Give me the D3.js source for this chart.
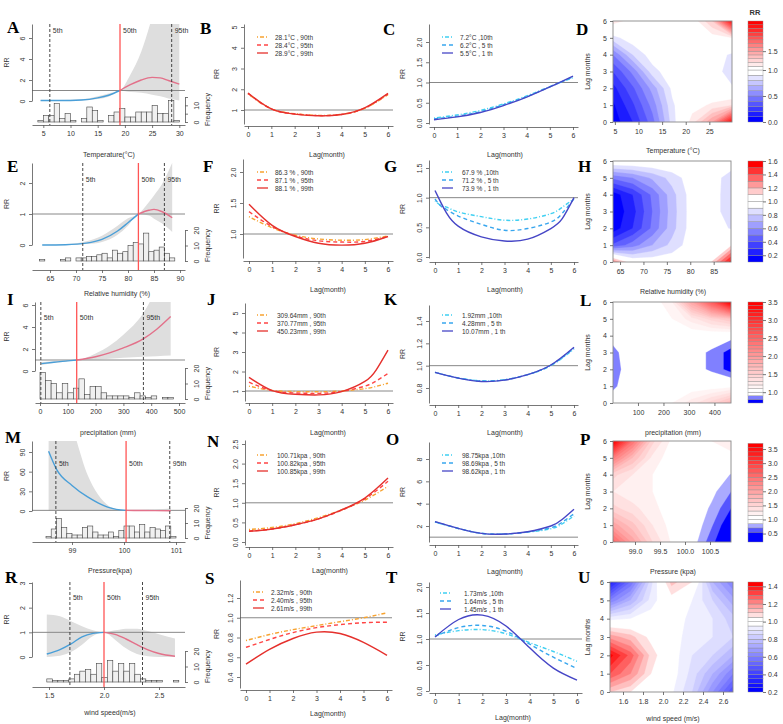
<!DOCTYPE html>
<html>
<head>
<meta charset="utf-8">
<script src="https://cdn.jsdelivr.net/npm/d3@7"></script>
<style>
  body { margin: 0; background: #fff; }
  svg text { font-family: "Liberation Sans", Arial, sans-serif; fill: #333; }
  svg text.letter { font-family: "Liberation Serif", "Times New Roman", serif; font-weight: bold; font-size: 17px; fill: #000; }
</style>
</head>
<body>
<svg id="fig" width="783" height="724"></svg>
<script>
var svg = d3.select("#fig");
var FONT = "'Liberation Sans', Arial, sans-serif";

// ================= exposure-response curves (left column) =================
var tempX  = [4.5, 8, 12, 15, 17, 19.1, 21, 23, 25, 26.5, 28, 30];
var tempRR = [0.05, 0.05, 0.1, 0.3, 0.55, 1.0, 1.55, 2.0, 2.25, 2.2, 1.95, 1.6];
var tempLo = [0.02, 0.02, 0.05, 0.18, 0.4, 1.0, 0.85, 0.78, 0.6, 0.45, 0.25, 0.05];
var tempHi = [0.1, 0.1, 0.16, 0.45, 0.72, 1.0, 2.5, 4.7, 8, 11, 14, 18];
var tempBin  = [4, 5, 6, 7, 8, 9, 10, 11, 12, 13, 14, 15, 16, 17, 18, 19, 20, 21, 22, 23, 24, 25, 26, 27, 28, 29];
var tempFreq = [1, 4, 4, 11, 2, 5, 1, 0, 2, 9, 7, 1, 0, 4, 6, 8, 3, 3, 6, 6, 6, 10, 5, 5, 13, 1];
var tempPct  = [6.2, 19.1, 28.6];

var humX  = [63.5, 68, 72, 75, 78, 80, 82, 84, 85, 86.5, 88.5];
var humRR = [0.0, 0.01, 0.06, 0.18, 0.45, 0.72, 1.0, 1.12, 1.15, 1.08, 0.88];
var humLo = [0.0, 0.0, 0.03, 0.1, 0.33, 0.62, 1.0, 0.95, 0.85, 0.7, 0.42];
var humHi = [0.01, 0.03, 0.12, 0.3, 0.62, 0.86, 1.0, 1.38, 1.6, 1.95, 2.65];
var humBin  = [63, 64, 65, 66, 67, 68, 69, 70, 71, 72, 73, 74, 75, 76, 77, 78, 79, 80, 81, 82, 83, 84, 85, 86, 87, 88];
var humFreq = [1, 0, 0, 0, 1, 2, 0, 2, 2, 3, 3, 4, 5, 2, 7, 5, 6, 10, 12, 11, 18, 6, 7, 9, 5, 2];
var humPct  = [71.3, 82.0, 87.0];

var precX  = [5, 50, 100, 132, 200, 250, 300, 370, 420, 470];
var precRR = [0.67, 0.8, 0.92, 1.0, 1.3, 1.65, 2.1, 2.9, 3.8, 4.95];
var precLo = [0.55, 0.72, 0.88, 1.0, 1.05, 1.12, 1.2, 1.3, 1.35, 1.4];
var precHi = [0.8, 0.88, 0.96, 1.0, 1.6, 2.3, 3.3, 5.2, 7.5, 10];
var precBin  = [0, 20, 40, 60, 80, 100, 120, 140, 160, 180, 200, 220, 240, 260, 280, 300, 320, 340, 360, 380, 400, 420, 440, 460];
var precFreq = [17, 12, 10, 4, 10, 4, 7, 13, 3, 8, 8, 4, 2, 2, 2, 2, 1, 4, 2, 1, 2, 0, 1, 1];
var precPct  = [3, 132, 372];

var presX  = [98.55, 98.7, 99.0, 99.3, 99.5, 99.7, 99.85, 100.04, 100.3, 100.6, 100.9];
var presRR = [91, 64, 39, 21.5, 12.5, 5.5, 2.5, 1.0, 0.7, 0.5, 0.4];
var presLo = [0.3, 0.3, 0.3, 0.3, 0.4, 0.5, 0.7, 1.0, 0.4, 0.2, 0.1];
var presHi = [250, 200, 130, 55, 25, 8, 3, 1.0, 1.5, 2.5, 4];
var presBin  = [98.5, 98.6, 98.7, 98.8, 98.9, 99.0, 99.1, 99.2, 99.3, 99.4, 99.5, 99.6, 99.7, 99.8, 99.9, 100.0, 100.1, 100.2, 100.3, 100.4, 100.5, 100.6, 100.7, 100.8, 100.9];
var presFreq = [1, 6, 13, 7, 3, 2, 2, 7, 8, 4, 2, 2, 4, 1, 5, 8, 8, 4, 9, 4, 7, 6, 5, 8, 1];
var presPct  = [98.69, 100.04, 100.88];

var windX  = [1.48, 1.6, 1.7, 1.8, 1.9, 2.0, 2.1, 2.2, 2.3, 2.4, 2.5, 2.645];
var windRR = [0.12, 0.3, 0.53, 0.82, 0.96, 1.0, 0.92, 0.73, 0.5, 0.29, 0.14, 0.03];
var windLo = [0.0, 0.05, 0.2, 0.5, 0.85, 1.0, 0.7, 0.35, 0.12, 0.03, 0.0, 0.0];
var windHi = [1.72, 1.65, 1.45, 1.25, 1.08, 1.0, 1.08, 1.15, 1.15, 1.05, 0.92, 0.75];
var windBin  = [1.48, 1.53, 1.58, 1.63, 1.68, 1.73, 1.78, 1.83, 1.88, 1.93, 1.98, 2.03, 2.08, 2.13, 2.18, 2.23, 2.28, 2.33, 2.38, 2.43, 2.48, 2.53, 2.58, 2.63];
var windFreq = [2, 1, 1, 1, 2, 5, 7, 8, 5, 12, 3, 14, 7, 12, 7, 12, 5, 2, 1, 1, 1, 0, 0, 1];
var windPct  = [1.69, 2.0, 2.35];

var pctNames = ["5th", "50th", "95th"];

// ================= lag-response curves (middle columns) =================
var lag7 = [0, 1, 2, 3, 4, 5, 6];
var lag8 = [0, 1, 2, 3, 4, 5, 5.5, 6];
var lagG = [0, 0.25, 0.5, 1, 2, 3, 4, 5, 5.5, 6];

var b90 = [1.78, 1.06, 0.82, 0.74, 0.79, 1.08, 1.74];
var b95 = [1.80, 1.05, 0.81, 0.73, 0.78, 1.09, 1.77];
var b99 = [1.82, 1.05, 0.80, 0.72, 0.78, 1.10, 1.80];
var c10 = [0.12, 0.2, 0.31, 0.47, 0.67, 0.9, 1.12];
var c5  = [0.1, 0.17, 0.28, 0.45, 0.65, 0.89, 1.14];
var c1  = [0.08, 0.15, 0.26, 0.43, 0.64, 0.89, 1.16];

var f90 = [1.28, 1.1, 0.98, 0.92, 0.9, 0.91, 0.97];
var f95 = [1.36, 1.12, 0.97, 0.89, 0.87, 0.88, 0.96];
var f99 = [1.48, 1.14, 0.96, 0.85, 0.82, 0.85, 0.96];
var g10 = [0.95, 0.87, 0.84, 0.76, 0.68, 0.62, 0.64, 0.73, 0.84, 0.98];
var g5  = [0.98, 0.86, 0.8, 0.69, 0.55, 0.45, 0.48, 0.59, 0.74, 0.98];
var g1  = [1.12, 0.92, 0.74, 0.52, 0.34, 0.27, 0.3, 0.48, 0.65, 1.0];

var j90 = [1.25, 1.03, 0.97, 0.96, 1.0, 1.12, 1.24, 1.4];
var j95 = [1.45, 1.02, 0.9, 0.88, 0.98, 1.25, 1.52, 1.9];
var j99 = [1.7, 1.02, 0.83, 0.8, 0.97, 1.49, 2.1, 3.1];
var k10 = [0.94, 0.89, 0.865, 0.875, 0.92, 1.0, 1.15];
var k5  = [0.94, 0.89, 0.862, 0.872, 0.92, 1.005, 1.155];
var k1  = [0.94, 0.888, 0.858, 0.87, 0.92, 1.006, 1.165];

var n90 = [0.32, 0.37, 0.47, 0.62, 0.82, 1.07, 1.42];
var n95 = [0.28, 0.33, 0.44, 0.59, 0.81, 1.1, 1.55];
var n99 = [0.27, 0.33, 0.44, 0.59, 0.82, 1.12, 1.63];
var o10 = [2.35, 1.78, 1.35, 1.28, 1.45, 1.75, 2.2, 2.9];
var o5  = [2.37, 1.79, 1.34, 1.28, 1.47, 1.85, 2.35, 3.1];
var o1  = [2.39, 1.79, 1.34, 1.28, 1.49, 2.0, 2.6, 3.5];

var s90 = [0.77, 0.83, 0.88, 0.92, 0.96, 1.0, 1.05];
var s95 = [0.70, 0.78, 0.85, 0.9, 0.93, 0.95, 0.955];
var s99 = [0.53, 0.68, 0.79, 0.854, 0.84, 0.75, 0.62];
var t10 = [1.08, 1.16, 1.18, 1.1, 0.93, 0.76, 0.57];
var t5  = [1.05, 1.22, 1.26, 1.15, 0.9, 0.65, 0.43];
var t1  = [1.04, 1.375, 1.46, 1.25, 0.83, 0.44, 0.21];

var legB = ["28.1°C , 90th", "28.4°C , 95th", "28.9°C , 99th"];
var legC = ["7.2°C ,10th", "6.2°C , 5 th", "5.5°C , 1 th"];
var legF = ["86.3 % , 90th", "87.1 % , 95th", "88.1 % , 99th"];
var legG = ["67.9 % ,10th", "71.2 % , 5 th", "73.9 % , 1 th"];
var legJ = ["309.64mm , 90th", "370.77mm , 95th", "450.23mm , 99th"];
var legK = ["1.92mm ,10th", "4.28mm , 5 th", "10.07mm , 1 th"];
var legN = ["100.71kpa , 90th", "100.82kpa , 95th", "100.85kpa , 99th"];
var legO = ["98.75kpa ,10th", "98.69kpa , 5 th", "98.62kpa , 1 th"];
var legS = ["2.32m/s , 90th", "2.40m/s , 95th", "2.61m/s , 99th"];
var legT = ["1.73m/s ,10th", "1.64m/s , 5 th", "1.45m/s , 1 th"];

// ================= exposure x lag surfaces (right column), rows = lag 0..6 =================
var tempCols = [4.6, 8.8, 13, 17.2, 21.4, 25.6, 29.8];
var tempGrid = [
  [0.04, 0.2, 0.46, 0.85, 1.15, 1.5, 2.2],
  [0.08, 0.28, 0.54, 0.88, 1.05, 1.12, 1.2],
  [0.16, 0.38, 0.64, 0.93, 1.0, 0.98, 0.91],
  [0.3, 0.53, 0.86, 0.97, 0.99, 0.94, 0.86],
  [0.5, 0.8, 0.96, 0.99, 0.99, 0.96, 0.88],
  [0.86, 0.97, 1.0, 1.0, 1.0, 1.04, 1.1],
  [1.15, 1.05, 1.0, 1.0, 1.02, 1.3, 2.2]
];
var humCols = [63.5, 67.7, 71.9, 76.1, 80.3, 84.5, 88.7];
var humGrid = [
  [1.3, 1.0, 0.98, 0.98, 1.0, 1.1, 1.55],
  [0.42, 0.55, 0.7, 0.83, 0.96, 1.0, 1.08],
  [0.14, 0.3, 0.52, 0.76, 0.95, 0.96, 0.89],
  [0.12, 0.26, 0.5, 0.75, 0.95, 0.95, 0.84],
  [0.14, 0.3, 0.52, 0.76, 0.95, 0.95, 0.84],
  [0.52, 0.6, 0.72, 0.84, 0.96, 0.95, 0.85],
  [1.02, 1.02, 1.02, 1.02, 1.0, 0.98, 0.97]
];
var precCols = [2, 79, 156, 234, 311, 388, 465];
var precGrid = [
  [0.96, 0.97, 1.0, 1.1, 1.25, 1.45, 1.7],
  [0.88, 0.97, 0.98, 1.0, 1.02, 1.02, 1.05],
  [0.85, 0.97, 0.97, 0.98, 0.95, 0.88, 0.75],
  [0.87, 0.97, 0.97, 0.98, 0.95, 0.88, 0.75],
  [0.94, 0.97, 0.98, 1.0, 1.0, 0.98, 0.95],
  [1.0, 1.0, 1.02, 1.1, 1.25, 1.45, 1.6],
  [1.05, 1.05, 1.02, 1.2, 1.9, 2.6, 3.5]
];
var presCols = [98.56, 98.95, 99.35, 99.74, 100.13, 100.53, 100.92];
var presGrid = [
  [2.6, 2.0, 1.45, 1.12, 0.95, 0.6, 0.3],
  [2.0, 1.65, 1.3, 1.08, 1.0, 0.72, 0.38],
  [1.5, 1.35, 1.2, 1.05, 1.0, 0.82, 0.55],
  [1.3, 1.2, 1.15, 1.05, 1.0, 0.9, 0.7],
  [1.5, 1.3, 1.15, 1.05, 1.0, 0.97, 0.84],
  [2.4, 1.75, 1.25, 1.05, 1.0, 1.02, 1.05],
  [3.7, 2.5, 1.5, 1.1, 1.0, 1.15, 1.3]
];
var windCols = [1.47, 1.675, 1.88, 2.085, 2.29, 2.495, 2.70];
var windGrid = [
  [1.1, 1.05, 1.0, 0.96, 0.85, 0.65, 0.45],
  [1.3, 1.2, 1.05, 0.98, 0.88, 0.75, 0.6],
  [1.42, 1.28, 1.08, 0.98, 0.9, 0.85, 0.75],
  [1.18, 1.12, 1.03, 0.98, 0.92, 0.9, 0.85],
  [0.93, 0.95, 0.98, 0.99, 0.93, 0.9, 0.82],
  [0.6, 0.75, 0.92, 1.02, 0.95, 0.85, 0.72],
  [0.3, 0.55, 0.88, 1.12, 1.05, 0.75, 0.6]
];

// colour-key breaks and tick labels
var tempLevels = d3.range(24).map(function(i) { return +(i * 0.1).toFixed(2); });
var humLevels  = d3.range(1, 17).map(function(i) { return +(i * 0.1).toFixed(2); });
var precLevels = d3.range(7, 36).map(function(i) { return +(i * 0.1).toFixed(2); });
var presLevels = [0.2, 0.55, 0.7, 0.85].concat(d3.range(19).map(function(i) { return +(1 + i * 0.15).toFixed(2); }));
var windLevels = d3.range(4, 30).map(function(i) { return +(i * 0.05).toFixed(2); });
var tempKey = [0, 0.5, 1, 1.5];
var humKey  = [0.2, 0.4, 0.6, 0.8, 1.0, 1.2, 1.4, 1.6];
var precKey = [1.0, 1.5, 2.0, 2.5, 3.0, 3.5];
var presKey = [0.5, 1.0, 1.5, 2.0, 2.5, 3.0, 3.5];
var windKey = [0.2, 0.4, 0.6, 0.8, 1.0, 1.2, 1.4];

// ================= helpers =================
// scale through two known tick positions, domain stretched to the pixel extent [a, b]
function fit(v1, p1, v2, p2, a, b) {
  var s = d3.scaleLinear().domain([v1, v2]).range([p1, p2]);
  return d3.scaleLinear().domain([s.invert(a), s.invert(b)]).range([a, b]);
}

function styleAxis(g) {
  g.attr("font-family", FONT).attr("font-size", 7);
  g.selectAll(".domain, .tick line").attr("stroke", "#555").attr("stroke-width", 0.8);
  g.selectAll("text").attr("fill", "#333");
  return g;
}

// R style: tick labels parallel to a vertical axis
function turnLabels(g, off) {
  g.selectAll(".tick text").attr("x", null).attr("y", null).attr("dy", null)
    .attr("text-anchor", "middle")
    .attr("transform", "translate(" + off + ",0) rotate(-90)");
}

function vlabel(txt, x, y, size) {
  svg.append("text").attr("transform", "translate(" + x + "," + y + ") rotate(-90)")
    .attr("text-anchor", "middle").attr("font-size", size || 7).text(txt);
}

function bandColors(levels) {
  var nb = levels.length - 1, nBlue = 0;
  for (var i = 0; i < nb; i++) if (levels[i + 1] <= 1.0001) nBlue++;
  var nRed = nb - nBlue;
  return d3.range(nb).map(function(i) {
    if (i < nBlue) return d3.interpolateRgb("#ffffff", "#0000ff")(nBlue > 1 ? (nBlue - 1 - i) / (nBlue - 1) : 1);
    return d3.interpolateRgb("#ffffff", "#ff0000")(nRed > 1 ? (i - nBlue) / (nRed - 1) : 1);
  });
}

// ================= panel builders =================
function exposurePanel(p) {
  var g = svg.append("g");
  var x = fit(p.xa[0], p.xa[1], p.xa[2], p.xa[3], p.L, p.R);
  var y = fit(p.ya[0], p.ya[1], p.ya[2], p.ya[3], p.rr0, p.top);
  var f = d3.scaleLinear().domain([p.fa[0], p.fa[2]]).range([p.fa[1], p.fa[3]]);
  var clip = "clip" + p.id;
  g.append("clipPath").attr("id", clip).append("rect")
    .attr("x", p.L).attr("y", p.top).attr("width", p.R - p.L).attr("height", p.rr0 - p.top + 1);

  var pts = p.xs.map(function(v, i) { return {x: v, rr: p.rr[i], lo: p.lo[i], hi: p.hi[i]}; });

  g.append("path").datum(pts).attr("clip-path", "url(#" + clip + ")")
    .attr("fill", "#dedede")
    .attr("d", d3.area().curve(d3.curveMonotoneX)
      .x(function(d) { return x(d.x); })
      .y0(function(d) { return y(d.lo); })
      .y1(function(d) { return y(d.hi); }));

  g.selectAll("rect.bar").data(p.bins).enter().append("rect").attr("class", "bar")
    .attr("x", function(d) { return x(d); })
    .attr("width", function(d) { return x(d + p.bw) - x(d); })
    .attr("y", function(d, i) { return f(p.freq[i]); })
    .attr("height", function(d, i) { return f(0) - f(p.freq[i]); })
    .attr("fill", "#f0f0f0").attr("stroke", "#444").attr("stroke-width", 0.6);

  g.append("line").attr("x1", p.L).attr("x2", p.R).attr("y1", y(1)).attr("y2", y(1))
    .attr("stroke", "#888").attr("stroke-width", 1);

  var med = p.pct[1];
  var line = d3.line().curve(d3.curveMonotoneX)
    .x(function(d) { return x(d.x); }).y(function(d) { return y(d.rr); });
  g.append("path").datum(pts.filter(function(d) { return d.x <= med; }))
    .attr("clip-path", "url(#" + clip + ")")
    .attr("d", line).attr("fill", "none").attr("stroke", "#4a9fd8").attr("stroke-width", 1.4);
  g.append("path").datum(pts.filter(function(d) { return d.x >= med; }))
    .attr("clip-path", "url(#" + clip + ")")
    .attr("d", line).attr("fill", "none").attr("stroke", "#e3718a").attr("stroke-width", 1.4);

  p.pct.forEach(function(v, i) {
    g.append("line").attr("x1", x(v)).attr("x2", x(v)).attr("y1", p.top).attr("y2", p.axisY)
      .attr("stroke", i === 1 ? "#ff5555" : "#333")
      .attr("stroke-width", i === 1 ? 1.3 : 0.9)
      .attr("stroke-dasharray", i === 1 ? null : "3,2");
    g.append("text").attr("x", x(v) + 3).attr("y", p.labY).attr("font-size", 7).text(pctNames[i]);
  });

  styleAxis(g.append("g").attr("transform", "translate(0," + p.axisY + ")")
    .call(d3.axisBottom(x).tickValues(p.xTicks).tickSize(3).tickSizeOuter(0).tickPadding(3).tickFormat(d3.format(p.xFmt))));
  var ya = styleAxis(g.append("g").attr("transform", "translate(" + p.L + ",0)")
    .call(d3.axisLeft(y).tickValues(p.yTicks).tickSize(3).tickSizeOuter(0).tickFormat(d3.format("d"))));
  turnLabels(ya, -7);
  var fa = styleAxis(g.append("g").attr("transform", "translate(" + p.R + ",0)")
    .call(d3.axisRight(f).tickValues(p.fTicks).tickSize(3).tickSizeOuter(0)
      .tickFormat(function(d) { return p.fLab.indexOf(d) >= 0 ? d : ""; })));
  turnLabels(fa, 14);

  vlabel("RR", 8.5, (p.top + p.rr0) / 2);
  vlabel("Frequency", 209.5, (f(0) + f(p.fTicks[p.fTicks.length - 1])) / 2);
}

var HIGH = [{c: "#f7a330", dash: "1,2,4,2"}, {c: "#ff4545", dash: "4,3"}, {c: "#e5302c", dash: null}];
var LOW  = [{c: "#3fd0f2", dash: "1,2,4,2"}, {c: "#38a6ee", dash: "4,3"}, {c: "#4646c6", dash: null}];

function lagPanel(p) {
  var g = svg.append("g");
  var x = fit(0, p.x0, 6, p.x6, p.L, p.R);
  var y = fit(p.ya[0], p.ya[1], p.ya[2], p.ya[3], p.B, p.T);

  g.append("line").attr("x1", p.L).attr("x2", p.R).attr("y1", y(1)).attr("y2", y(1))
    .attr("stroke", "#888").attr("stroke-width", 1);

  var line = d3.line().curve(d3.curveNatural)
    .x(function(d, i) { return x(p.lags[i]); }).y(function(d) { return y(d); });
  p.series.forEach(function(s, i) {
    g.append("path").datum(s).attr("d", line).attr("fill", "none")
      .attr("stroke", p.sty[i].c).attr("stroke-width", 1.4).attr("stroke-dasharray", p.sty[i].dash);
  });

  p.labels.forEach(function(t, i) {
    var yy = p.ly + i * 8;
    g.append("line").attr("x1", p.lx).attr("x2", p.lx + 11).attr("y1", yy).attr("y2", yy)
      .attr("stroke", p.sty[i].c).attr("stroke-width", 1.3).attr("stroke-dasharray", p.sty[i].dash);
    g.append("text").attr("x", p.tx).attr("y", yy + 2.5).attr("font-size", 6.5).text(t);
  });

  styleAxis(g.append("g").attr("transform", "translate(0," + p.axisY + ")")
    .call(d3.axisBottom(x).tickValues(lag7).tickSize(3).tickSizeOuter(0).tickPadding(3).tickFormat(d3.format("d"))));
  var ya = styleAxis(g.append("g").attr("transform", "translate(" + p.L + ",0)")
    .call(d3.axisLeft(y).tickValues(p.yTicks).tickSize(3).tickSizeOuter(0).tickFormat(d3.format(p.yFmt))));
  turnLabels(ya, -7);
  vlabel("RR", p.rrX, (p.T + p.B) / 2);
}

function contourPanel(p) {
  var g = svg.append("g");
  var n = p.cols.length, m = p.grid.length;
  var x = d3.scaleLinear().domain([p.cols[0], p.cols[n - 1]]).range([p.L, p.R]);
  var y = d3.scaleLinear().domain([0, 6]).range([p.B, p.T]);
  var ix = d3.scaleLinear().domain(d3.range(n)).range(p.cols);
  var colors = bandColors(p.levels);
  var proj = d3.geoTransform({
    point: function(px, py) { this.stream.point(x(ix(px - 0.5)), y(py - 0.5)); }
  });
  var path = d3.geoPath(proj);
  var clip = "clip" + p.id;
  g.append("clipPath").attr("id", clip).append("rect")
    .attr("x", p.L).attr("y", p.T).attr("width", p.R - p.L).attr("height", p.B - p.T);

  var gc = g.append("g").attr("clip-path", "url(#" + clip + ")");
  gc.append("rect").attr("x", p.L).attr("y", p.T).attr("width", p.R - p.L).attr("height", p.B - p.T)
    .attr("fill", colors[0]);
  var cs = d3.contours().size([n, m]).thresholds(p.levels.slice(0, -1))(d3.merge(p.grid));
  gc.selectAll("path").data(cs).enter().append("path")
    .attr("d", path)
    .attr("fill", function(d, i) { return colors[i]; })
    .attr("stroke", function(d, i) { return colors[i]; }).attr("stroke-width", 0.3);

  g.append("rect").attr("x", p.L).attr("y", p.T).attr("width", p.R - p.L).attr("height", p.B - p.T)
    .attr("fill", "none").attr("stroke", "#888").attr("stroke-width", 0.9);

  var xa = styleAxis(g.append("g").attr("transform", "translate(0," + p.B + ")")
    .call(d3.axisBottom(x).tickValues(p.xTicks).tickSize(3).tickPadding(4).tickFormat(d3.format(p.xFmt))));
  xa.select(".domain").remove();
  var ya = styleAxis(g.append("g").attr("transform", "translate(" + p.L + ",0)")
    .call(d3.axisLeft(y).tickValues(lag7).tickSize(3).tickPadding(3).tickFormat(d3.format("d"))));
  ya.select(".domain").remove();
  vlabel("Lag  months", 590, (p.T + p.B) / 2);

  // colour key
  var pos = d3.scaleLinear().domain(p.cbDomain).range(p.cbRange);
  g.selectAll("rect.key").data(d3.range(p.levels.length - 1)).enter().append("rect").attr("class", "key")
    .attr("x", 748).attr("width", 15)
    .attr("y", function(i) { return pos(p.levels[i + 1]); })
    .attr("height", function(i) { return pos(p.levels[i]) - pos(p.levels[i + 1]); })
    .attr("fill", function(i) { return colors[i]; })
    .attr("stroke", "#8a8a8a").attr("stroke-width", 0.4);
  var ka = styleAxis(g.append("g").attr("transform", "translate(763,0)")
    .call(d3.axisRight(pos).tickValues(p.key).tickSize(3).tickPadding(2).tickFormat(d3.format(".1f"))));
  ka.select(".domain").remove();
}

// ================= draw =================
exposurePanel({id: "A", xs: tempX, rr: tempRR, lo: tempLo, hi: tempHi, bins: tempBin, freq: tempFreq, bw: 1, pct: tempPct,
  xa: [5, 43.3, 30, 179.3], ya: [0, 101, 6, 38], L: 32, R: 185, top: 24, rr0: 101, axisY: 125,
  fa: [0, 122, 15, 97], fTicks: [0, 5, 10, 15], fLab: [0, 10],
  xTicks: [5, 10, 15, 20, 25, 30], yTicks: [0, 2, 4, 6], xFmt: "d", labY: 33});
exposurePanel({id: "E", xs: humX, rr: humRR, lo: humLo, hi: humHi, bins: humBin, freq: humFreq, bw: 1, pct: humPct,
  xa: [65, 50, 90, 180], ya: [0, 245, 2, 183], L: 32, R: 185, top: 163, rr0: 245, axisY: 270,
  fa: [0, 261, 20, 230], fTicks: [0, 10, 20], fLab: [0, 10, 20],
  xTicks: [65, 70, 75, 80, 85, 90], yTicks: [0, 1, 2], xFmt: "d", labY: 182});
exposurePanel({id: "I", xs: precX, rr: precRR, lo: precLo, hi: precHi, bins: precBin, freq: precFreq, bw: 20, pct: precPct,
  xa: [0, 40, 500, 179], ya: [0, 371, 6, 305], L: 35, R: 185, top: 302, rr0: 371, axisY: 403,
  fa: [0, 399, 20, 368], fTicks: [0, 10, 20], fLab: [0, 10, 20],
  xTicks: [0, 100, 200, 300, 400, 500], yTicks: [0, 2, 4, 6], xFmt: "d", labY: 320});
exposurePanel({id: "M", xs: presX, rr: presRR, lo: presLo, hi: presHi, bins: presBin, freq: presFreq, bw: 0.1, pct: presPct,
  xa: [99, 72, 101, 176], ya: [0, 511, 90, 452], L: 32, R: 185, top: 441, rr0: 511, axisY: 542,
  fa: [0, 538, 20, 508], fTicks: [0, 10, 20], fLab: [0, 10, 20],
  xTicks: [99, 100, 101], yTicks: [0, 30, 60, 90], xFmt: "d", labY: 466});
exposurePanel({id: "R", xs: windX, rr: windRR, lo: windLo, hi: windHi, bins: windBin, freq: windFreq, bw: 0.05, pct: windPct,
  xa: [1.5, 49, 2.5, 159], ya: [0, 657, 3, 583], L: 32, R: 185, top: 582, rr0: 657, axisY: 687,
  fa: [0, 682, 20, 651], fTicks: [0, 10, 20], fLab: [0, 10, 20],
  xTicks: [1.5, 2.0, 2.5], yTicks: [0, 1, 2, 3], xFmt: ".1f", labY: 600});

lagPanel({lags: lag7, series: [b90, b95, b99], sty: HIGH, labels: legB, x0: 248, x6: 388, L: 244, R: 393,
  ya: [1, 110, 5, 27], T: 24, B: 124, axisY: 126, yTicks: [1, 2, 3, 4, 5], yFmt: "d", rrX: 218.5, lx: 257, tx: 275, ly: 37});
lagPanel({lags: lag7, series: [c10, c5, c1], sty: LOW, labels: legC, x0: 434, x6: 573, L: 429, R: 578,
  ya: [0, 123, 2, 42], T: 24, B: 124, axisY: 127, yTicks: [0, 0.5, 1, 1.5, 2], yFmt: ".1f", rrX: 404.5, lx: 442, tx: 460, ly: 37});
lagPanel({lags: lag7, series: [f90, f95, f99], sty: HIGH, labels: legF, x0: 249, x6: 388, L: 243, R: 393,
  ya: [1, 234, 2, 172], T: 159, B: 258, axisY: 261, yTicks: [1, 1.5, 2], yFmt: ".1f", rrX: 218.5, lx: 257, tx: 275, ly: 172});
lagPanel({lags: lagG, series: [g10, g5, g1], sty: LOW, labels: legG, x0: 435, x6: 574, L: 429, R: 578,
  ya: [0, 257, 1.5, 168], T: 160, B: 258, axisY: 262, yTicks: [0, 0.5, 1, 1.5], yFmt: ".1f", rrX: 404.5, lx: 442, tx: 462, ly: 172});
lagPanel({lags: lag8, series: [j90, j95, j99], sty: HIGH, labels: legJ, x0: 249, x6: 388, L: 245, R: 393,
  ya: [1, 391, 5, 313], T: 303, B: 401, axisY: 403, yTicks: [1, 2, 3, 4, 5], yFmt: "d", rrX: 218.5, lx: 257, tx: 277, ly: 315});
lagPanel({lags: lag7, series: [k10, k5, k1], sty: LOW, labels: legK, x0: 435, x6: 574, L: 429, R: 578,
  ya: [0.8, 388, 1.4, 321], T: 305, B: 403, axisY: 405, yTicks: [0.8, 1.0, 1.2, 1.4], yFmt: ".1f", rrX: 404.5, lx: 442, tx: 462, ly: 315});
lagPanel({lags: lag7, series: [n90, n95, n99], sty: HIGH, labels: legN, x0: 249, x6: 388, L: 245, R: 393,
  ya: [0, 542, 2.5, 444], T: 440, B: 545, axisY: 547, yTicks: [0, 0.5, 1, 1.5, 2, 2.5], yFmt: ".1f", rrX: 218.5, lx: 257, tx: 277, ly: 455});
lagPanel({lags: lag8, series: [o10, o5, o1], sty: LOW, labels: legO, x0: 435, x6: 574, L: 429, R: 578,
  ya: [2, 526, 8, 459], T: 442, B: 542, axisY: 545, yTicks: [2, 4, 6, 8], yFmt: "d", rrX: 404.5, lx: 442, tx: 462, ly: 455});
lagPanel({lags: lag7, series: [s90, s95, s99], sty: HIGH, labels: legS, x0: 246, x6: 387, L: 240, R: 392,
  ya: [0.4, 677, 1.2, 598], T: 580, B: 688, axisY: 690, yTicks: [0.4, 0.6, 0.8, 1.0, 1.2], yFmt: ".1f", rrX: 218.5, lx: 253, tx: 271, ly: 592});
lagPanel({lags: lag7, series: [t10, t5, t1], sty: LOW, labels: legT, x0: 435, x6: 577, L: 429, R: 582,
  ya: [0, 691, 2, 587], T: 582, B: 691, axisY: 693, yTicks: [0, 0.5, 1, 1.5, 2], yFmt: ".1f", rrX: 404.5, lx: 440, tx: 464, ly: 593});

contourPanel({id: "D", cols: tempCols, grid: tempGrid, levels: tempLevels, key: tempKey,
  L: 613, R: 732, T: 21, B: 122, xTicks: [5, 10, 15, 20, 25], xFmt: "d", cbDomain: [0, 1, 2.3], cbRange: [122, 70, 21]});
contourPanel({id: "H", cols: humCols, grid: humGrid, levels: humLevels, key: humKey,
  L: 613, R: 731, T: 161, B: 262, xTicks: [65, 70, 75, 80, 85], xFmt: "d", cbDomain: [0.1, 1.6], cbRange: [262, 161]});
contourPanel({id: "L", cols: precCols, grid: precGrid, levels: precLevels, key: precKey,
  L: 613, R: 731, T: 302, B: 403, xTicks: [100, 200, 300, 400], xFmt: "d", cbDomain: [0.7, 3.5], cbRange: [403, 302]});
contourPanel({id: "P", cols: presCols, grid: presGrid, levels: presLevels, key: presKey,
  L: 613, R: 731, T: 441, B: 542, xTicks: [99, 99.5, 100, 100.5], xFmt: ".1f", cbDomain: [0.2, 3.75], cbRange: [542, 442]});
contourPanel({id: "U", cols: windCols, grid: windGrid, levels: windLevels, key: windKey,
  L: 610, R: 733, T: 582, B: 692, xTicks: [1.6, 1.8, 2.0, 2.2, 2.4, 2.6], xFmt: ".1f", cbDomain: [0.2, 1.45], cbRange: [692, 582]});

svg.append("text").attr("x", 755).attr("y", 15).attr("text-anchor", "middle")
  .attr("font-size", 7.5).attr("font-weight", "bold").text("RR");

// axis titles (each sits just under its row)
var titles = [
  ["Temperature(°C)", 109, 157], ["Lag(month)", 327, 157], ["Lag(month)", 505, 157], ["Temperature (°C)", 673, 153],
  ["Relative humidity (%)", 117, 296], ["Lag(month)", 328, 292], ["Lag(month)", 505, 292], ["Relative humidity (%)", 673, 294],
  ["precipitation (mm)", 108, 435], ["Lag(month)", 328, 435], ["Lag(month)", 505, 435], ["precipitation (mm)", 673, 435],
  ["Pressure(kpa)", 110, 573], ["Lag(month)", 330, 573], ["Lag(month)", 505, 574], ["Pressure (kpa)", 673, 574],
  ["wind speed(m/s)", 110, 715], ["Lag(month)", 328, 716], ["Lag(month)", 513, 720], ["wind speed (m/s)", 673, 721]
];
titles.forEach(function(t) {
  svg.append("text").attr("x", t[1]).attr("y", t[2]).attr("text-anchor", "middle").attr("font-size", 7).text(t[0]);
});

var letters = [
  ["A", 7, 33], ["B", 200, 34], ["C", 383, 35], ["D", 576, 35],
  ["E", 7, 172], ["F", 203, 172], ["G", 384, 172], ["H", 578, 172],
  ["I", 7, 305], ["J", 207, 305], ["K", 384, 305], ["L", 580, 306],
  ["M", 5, 443], ["N", 207, 447], ["O", 386, 445], ["P", 580, 445],
  ["R", 5, 583], ["S", 205, 584], ["T", 386, 583], ["U", 578, 583]
];
letters.forEach(function(l) {
  svg.append("text").attr("class", "letter").attr("x", l[1]).attr("y", l[2]).text(l[0]);
});
</script>
</body>
</html>
